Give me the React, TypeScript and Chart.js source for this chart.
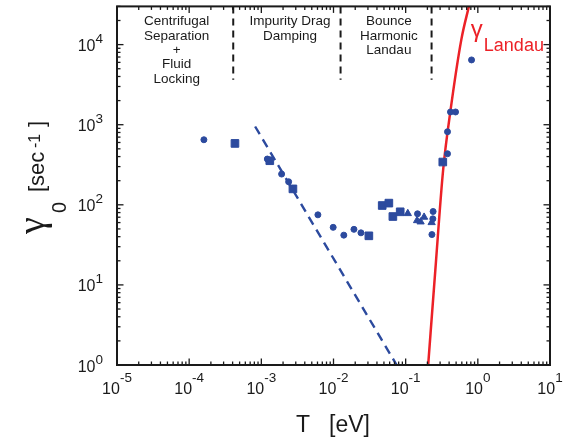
import React, { useEffect, useRef } from 'react';
import { Chart, registerables } from 'chart.js';

Chart.register(...registerables);

// ---- data ----
const circleT = [1.6e-4, 1.21e-3, 1.91e-3, 2.39e-3, 6.08e-3, 9.9e-3, 0.0139, 0.0192, 0.024, 0.146, 0.24, 0.238, 0.231, 0.38, 0.38, 0.418, 0.491, 0.818];
const circleG = [649, 373, 242, 194, 75, 52.3, 41.8, 49.4, 44.7, 77.2, 82.5, 66.8, 42.5, 434, 817, 1442, 1442, 6440];
const squareT = [4.31e-4, 1.31e-3, 2.74e-3, 0.0309, 0.0473, 0.0585, 0.0665, 0.084, 0.327];
const squareG = [584, 355, 158, 41, 98, 105, 71.4, 81.8, 342];
const triT = [0.107, 0.144, 0.161, 0.18, 0.229];
const triG = [77.9, 63.6, 61.3, 70.2, 60.1];
const landauT = [0.205, 0.2578, 0.3307, 0.4159, 0.5906, 0.7625];
const landauG = [1, 15.4, 274, 1454, 11550, 31623];
const dragFitT = [8.2e-4, 0.075];
const dragFitG = [950, 1];
const regionBoundT = [4.08e-4, 0.01253, 0.2286];
const regionBoundG = [30000, 3650];
const regionLabelT = [6.71e-5, 2.49e-3, 0.0585];
const regionLabels = [
  ['Centrifugal', 'Separation', '+', 'Fluid', 'Locking'],
  ['Impurity Drag', 'Damping'],
  ['Bounce', 'Harmonic', 'Landau'],
];
const xTickExps = [-5, -4, -3, -2, -1, 0, 1];
const yTickExps = [0, 1, 2, 3, 4];
const xMin = 1e-5, xMax = 10, yMin = 1, yMax = 30000;

const BLUE = '#2c4a9e';
const RED = '#ec2127';
const INK = '#1a1a1a';
const SANS = '"Liberation Sans", Arial, Helvetica, sans-serif';
const BASE_F = 16;
const SUP_F = 13.5;

const zip = (xs: number[], ys: number[]) => xs.map((x, i) => ({ x, y: ys[i] }));

function supLabel(ctx: CanvasRenderingContext2D, exp: number) {
  const sup = exp < 0 ? '-' + Math.abs(exp) : String(exp);
  ctx.font = `${BASE_F}px ${SANS}`;
  const wb = ctx.measureText('10').width;
  ctx.font = `${SUP_F}px ${SANS}`;
  const ws = ctx.measureText(sup).width;
  return { sup, wb, ws, total: wb + ws };
}

const framePlugin = {
  id: 'frame',
  afterDraw(chart: any) {
    const ctx: CanvasRenderingContext2D = chart.ctx;
    const { left, right, top, bottom } = chart.chartArea;
    const xs = chart.scales.x;
    const ys = chart.scales.y;
    ctx.save();
    ctx.strokeStyle = INK;
    ctx.fillStyle = INK;
    // ticks
    ctx.lineWidth = 1.3;
    const seg = (x1: number, y1: number, x2: number, y2: number) => {
      ctx.beginPath(); ctx.moveTo(x1, y1); ctx.lineTo(x2, y2); ctx.stroke();
    };
    for (let e = -5; e <= 1; e++) {
      for (let m = 1; m <= 9; m++) {
        const v = m * Math.pow(10, e);
        if (v > xMax * 1.0001) break;
        const px = xs.getPixelForValue(v);
        const len = m === 1 ? 6.5 : 3.5;
        seg(px, bottom, px, bottom - len);
        seg(px, top, px, top + len);
      }
    }
    for (let e = 0; e <= 4; e++) {
      for (let m = 1; m <= 9; m++) {
        const v = m * Math.pow(10, e);
        if (v > yMax) break;
        const py = ys.getPixelForValue(v);
        const len = m === 1 ? 6.5 : 3.5;
        seg(left, py, left + len, py);
        seg(right, py, right - len, py);
      }
    }
    // border
    ctx.lineWidth = 2;
    ctx.strokeRect(left, top, right - left, bottom - top);

    // tick labels
    ctx.textAlign = 'left';
    ctx.textBaseline = 'alphabetic';
    for (const e of xTickExps) {
      const px = xs.getPixelForValue(Math.pow(10, e));
      const { sup, wb, total } = supLabel(ctx, e);
      const x0 = px - total / 2;
      ctx.font = `${BASE_F}px ${SANS}`;
      ctx.fillText('10', x0, bottom + 28.5);
      ctx.font = `${SUP_F}px ${SANS}`;
      ctx.fillText(sup, x0 + wb, bottom + 17);
    }
    for (const e of yTickExps) {
      const py = ys.getPixelForValue(Math.pow(10, e));
      const { sup, wb, total } = supLabel(ctx, e);
      const x0 = left - 14 - total;
      ctx.font = `${BASE_F}px ${SANS}`;
      ctx.fillText('10', x0, py + 6.5);
      ctx.font = `${SUP_F}px ${SANS}`;
      ctx.fillText(sup, x0 + wb, py - 1.5);
    }

    // x title
    ctx.font = `23px ${SANS}`;
    ctx.textAlign = 'left';
    ctx.fillText('T', 296, 431.5);
    ctx.fillText('[eV]', 329, 431.5);

    // y title (rotated)
    ctx.save();
    ctx.translate(44, 235);
    ctx.rotate(-Math.PI / 2);
    ctx.textAlign = 'left';
    ctx.font = `38px "Liberation Serif", "Times New Roman", serif`;
    ctx.fillText('γ', 1, 0);
    ctx.font = `20px ${SANS}`;
    ctx.fillText('0', 22, 22);
    ctx.font = `22px ${SANS}`;
    ctx.fillText('[sec', 43, 0);
    ctx.font = `16px ${SANS}`;
    ctx.fillText('-1', 87, -4);
    ctx.font = `22px ${SANS}`;
    ctx.fillText(']', 108, 0);
    ctx.restore();

    // region labels
    ctx.textAlign = 'center';
    ctx.font = `13.5px ${SANS}`;
    regionLabels.forEach((lines, i) => {
      const px = xs.getPixelForValue(regionLabelT[i]);
      lines.forEach((s, j) => ctx.fillText(s, px, top + 19 + j * 14.3));
    });

    // gamma Landau label
    ctx.fillStyle = RED;
    ctx.textAlign = 'left';
    const lx = xs.getPixelForValue(0.8);
    ctx.font = `24px ${SANS}`;
    ctx.fillText('γ', lx, top + 31);
    ctx.font = `18px ${SANS}`;
    ctx.fillText('Landau', lx + 13, top + 44.5);
    ctx.restore();
  },
};

export default function App() {
  const ref = useRef<HTMLCanvasElement | null>(null);
  useEffect(() => {
    if (!ref.current) return;
    const chart = new Chart(ref.current, {
      type: 'scatter',
      data: {
        datasets: [
          { data: zip(circleT, circleG), pointStyle: 'circle', pointRadius: 3, borderWidth: 1, backgroundColor: BLUE, borderColor: BLUE, order: 0 },
          { data: zip(squareT, squareG), pointStyle: 'rect', pointRadius: 5.4, borderWidth: 1, backgroundColor: BLUE, borderColor: BLUE, order: 0 },
          { data: zip(triT, triG), pointStyle: 'triangle', pointRadius: 4.2, borderWidth: 1, backgroundColor: BLUE, borderColor: BLUE, order: 0 },
          { data: zip(landauT, landauG), showLine: true, pointRadius: 0, borderColor: RED, borderWidth: 2.5, cubicInterpolationMode: 'monotone', clip: 0, order: 1 } as any,
          { data: zip(dragFitT, dragFitG), showLine: true, pointRadius: 0, borderColor: BLUE, borderWidth: 2.4, borderDash: [9, 6], clip: 0, order: 1 } as any,
          ...regionBoundT.map((t) => ({ data: zip([t, t], regionBoundG), showLine: true, pointRadius: 0, borderColor: INK, borderWidth: 2, borderDash: [7, 5], clip: 0, order: 1 } as any)),
        ],
      },
      options: {
        responsive: false,
        animation: false,
        layout: { padding: { left: 117, right: 23, top: 5, bottom: 75 } },
        plugins: { legend: { display: false }, tooltip: { enabled: false } },
        scales: {
          x: { type: 'logarithmic', min: xMin, max: xMax, display: false },
          y: { type: 'logarithmic', min: yMin, max: yMax, display: false },
        },
      },
      plugins: [framePlugin],
    });
    return () => chart.destroy();
  }, []);
  return (
    <div style={{ position: 'fixed', left: 0, top: 0, width: 573, height: 440, background: '#fff' }}>
      <canvas ref={ref} width={573} height={440} style={{ width: 573, height: 440 }} />
    </div>
  );
}
